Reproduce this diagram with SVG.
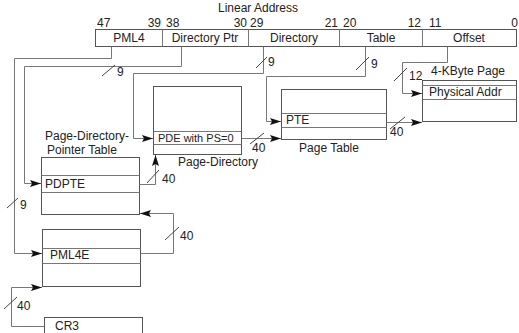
<svg xmlns="http://www.w3.org/2000/svg" width="519" height="333" viewBox="0 0 519 333">
<defs>
<marker id="ah" viewBox="0 0 11 7" markerWidth="11" markerHeight="7" refX="11" refY="3.5" orient="auto" markerUnits="userSpaceOnUse">
<path d="M0,0 L11,3.5 L0,7 L2,3.5 z" fill="#111"/>
</marker>
<style>
text{font-family:"Liberation Sans",Arial,sans-serif;font-size:12px;fill:#222}
.sm{font-size:11px}
.box{fill:#fff;stroke:#555;stroke-width:1}
.row{stroke:#777;stroke-width:1;fill:none}
.c{fill:none;stroke:#777;stroke-width:1}
.a{marker-end:url(#ah)}
.sl{stroke:#444;stroke-width:1}
</style>
</defs>
<rect width="519" height="333" fill="#fff"/>

<g id="linear-address">
<text x="258" y="12" text-anchor="middle">Linear Address</text>
<text x="97" y="27">47</text>
<text x="161" y="27" text-anchor="end">39</text>
<text x="166" y="27">38</text>
<text x="247" y="27" text-anchor="end">30</text>
<text x="250" y="27">29</text>
<text x="338" y="27" text-anchor="end">21</text>
<text x="343" y="27">20</text>
<text x="421" y="27" text-anchor="end">12</text>
<text x="429" y="27">11</text>
<text x="518" y="27" text-anchor="end">0</text>
<rect class="box" x="95.5" y="29.5" width="421" height="17"/>
<line class="row" x1="162.5" y1="29.5" x2="162.5" y2="46.5"/>
<line class="row" x1="248.5" y1="29.5" x2="248.5" y2="46.5"/>
<line class="row" x1="339.5" y1="29.5" x2="339.5" y2="46.5"/>
<line class="row" x1="422.5" y1="29.5" x2="422.5" y2="46.5"/>
<text x="129" y="42" text-anchor="middle">PML4</text>
<text x="205" y="42" text-anchor="middle">Directory Ptr</text>
<text x="294" y="42" text-anchor="middle">Directory</text>
<text x="381" y="42" text-anchor="middle">Table</text>
<text x="469" y="42" text-anchor="middle">Offset</text>
</g>

<g id="page-4k">
<text x="431" y="75">4-KByte Page</text>
<rect class="box" x="422.5" y="80.5" width="94" height="41"/>
<line class="row" x1="422.5" y1="85.5" x2="516.5" y2="85.5"/>
<line class="row" x1="422.5" y1="99.5" x2="516.5" y2="99.5"/>
<text x="429" y="96">Physical Addr</text>
</g>

<g id="page-directory">
<rect class="box" x="153.5" y="86.5" width="88" height="68"/>
<line class="row" x1="153.5" y1="131.5" x2="241.5" y2="131.5"/>
<line class="row" x1="153.5" y1="144.5" x2="241.5" y2="144.5"/>
<text class="sm" x="158" y="142">PDE with PS=0</text>
<text x="178" y="166">Page-Directory</text>
</g>

<g id="page-table">
<rect class="box" x="281.5" y="89.5" width="105" height="50"/>
<line class="row" x1="281.5" y1="113.5" x2="386.5" y2="113.5"/>
<line class="row" x1="281.5" y1="127.5" x2="386.5" y2="127.5"/>
<text x="286" y="124">PTE</text>
<text x="329" y="152" text-anchor="middle">Page Table</text>
</g>

<g id="pdpt">
<text x="45" y="140">Page-Directory-</text>
<text x="47" y="154">Pointer Table</text>
<rect class="box" x="41.5" y="157.5" width="98" height="57"/>
<line class="row" x1="41.5" y1="175.5" x2="139.5" y2="175.5"/>
<line class="row" x1="41.5" y1="192.5" x2="139.5" y2="192.5"/>
<text x="45" y="188">PDPTE</text>
</g>

<g id="pml4">
<rect class="box" x="42.5" y="229.5" width="98" height="57"/>
<line class="row" x1="42.5" y1="248.5" x2="140.5" y2="248.5"/>
<line class="row" x1="42.5" y1="263.5" x2="140.5" y2="263.5"/>
<text x="50" y="259">PML4E</text>
</g>

<g id="cr3">
<rect class="box" x="44.5" y="317.5" width="98" height="20"/>
<text x="55" y="330">CR3</text>
</g>

<g id="connectors">
<path class="c a" d="M111.5,47 V58.5 H14.5 V253.5 H42"/>
<path class="c a" d="M181.5,47 V66.5 H24.5 V183.5 H41"/>
<path class="c a" d="M263.5,47 V73.5 H133.5 V138.5 H153"/>
<path class="c a" d="M365.5,47 V76.5 H266.5 V121.5 H281"/>
<path class="c a" d="M447.5,47 V62.5 H402.5 V93.5 H422"/>
<path class="c a" d="M140.5,253.5 H173.5 V213.5 H140"/>
<path class="c a" d="M139.5,184.5 H155.5 V155"/>
<path class="c a" d="M241.5,138.5 H281"/>
<path class="c a" d="M386.5,122.5 H422"/>
<path class="c a" d="M44.5,326.5 H11.5 V287.5 H42"/>
<line class="sl" x1="7" y1="208" x2="18" y2="198"/>
<text x="20" y="209">9</text>
<line class="sl" x1="102" y1="76" x2="115" y2="65"/>
<text x="117" y="76">9</text>
<line class="sl" x1="256" y1="68" x2="267" y2="57"/>
<text x="268" y="66">9</text>
<line class="sl" x1="356" y1="70" x2="369" y2="57"/>
<text x="371" y="68">9</text>
<line class="sl" x1="394" y1="81" x2="407" y2="68"/>
<text x="409" y="80">12</text>
<line class="sl" x1="165" y1="240" x2="179" y2="227"/>
<text x="180" y="240">40</text>
<line class="sl" x1="147" y1="183" x2="159" y2="170"/>
<text x="162" y="183">40</text>
<line class="sl" x1="250" y1="144" x2="264" y2="133"/>
<text x="252" y="152">40</text>
<line class="sl" x1="390" y1="129" x2="405" y2="117"/>
<text x="390" y="136">40</text>
<line class="sl" x1="4" y1="309" x2="17" y2="297"/>
<text x="17" y="310">40</text>
</g>
</svg>
